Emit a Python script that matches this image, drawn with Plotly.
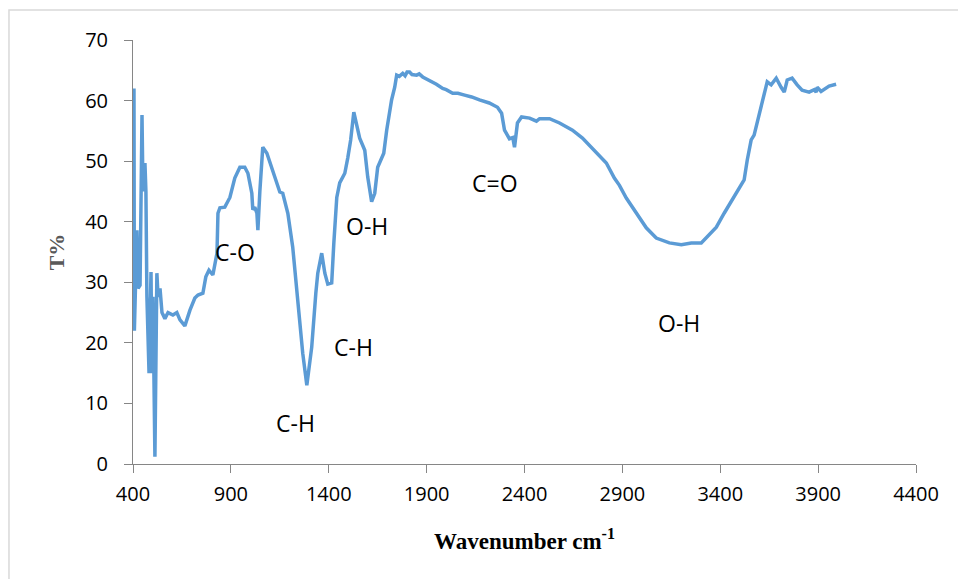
import plotly.graph_objects as go

wavenumber = [405, 407, 420, 426, 436, 446, 451, 461, 466, 471, 482, 492, 497, 502, 512, 522, 528, 538, 548,
              563, 579, 604, 624, 640, 665, 691, 716, 732, 757, 772, 788, 808, 829, 834, 844, 869, 895, 920,
              946, 971, 987, 1007, 1012, 1022, 1033, 1038, 1048, 1063, 1084, 1114, 1150, 1165, 1191, 1216,
              1242, 1267, 1288, 1313, 1334, 1344, 1364, 1380, 1395, 1415, 1426, 1441, 1456, 1482, 1497,
              1512, 1528, 1543, 1558, 1584, 1599, 1619, 1635, 1650, 1681, 1696, 1711, 1721, 1737, 1747,
              1760, 1778, 1790, 1800, 1813, 1825, 1849, 1862, 1880, 1900, 1931, 1950, 1982, 2000, 2033,
              2060, 2094, 2130, 2170, 2220, 2262, 2283, 2298, 2323, 2340, 2349, 2364, 2385, 2426, 2461,
              2477, 2528, 2579, 2645, 2696, 2767, 2818, 2859, 2885, 2920, 2971, 3022, 3073, 3140, 3201,
              3252, 3303, 3334, 3380, 3420, 3461, 3497, 3522, 3538, 3558, 3573, 3589, 3609, 3624, 3640,
              3660, 3686, 3711, 3727, 3742, 3767, 3793, 3818, 3854, 3880, 3890, 3895, 3915, 3956, 3992]
transmittance = [62, 22, 38.6, 29, 29.5, 57.6, 45, 49.7, 45, 27.6, 15, 31.7, 15, 27.6, 1.2, 31.5, 27.6, 29, 25,
                 24, 25, 24.6, 25, 23.8, 22.8, 25.4, 27.4, 27.9, 28.2, 30.9, 32, 31.2, 34.8, 41.4, 42.3, 42.4,
                 44, 47.2, 49, 49, 48, 44.7, 42, 42.4, 41.4, 38.6, 45, 52.3, 51.3, 48.5, 44.9, 44.7, 41.4, 35.8,
                 27, 18.3, 13, 19.3, 28.2, 31.5, 34.8, 31.5, 29.7, 29.9, 36.5, 44, 46.4, 48, 50.5,
                 53.5, 58.1, 56, 53.8, 51.8, 47.4, 43.3, 44.7, 49, 51.3, 55.1, 58.4, 60.1, 62.2, 64.2,
                 64.0, 64.5, 64.1, 64.7, 64.7, 64.3, 64.2, 64.4, 63.9, 63.6, 63.1, 62.7, 62.0, 61.8, 61.2,
                 61.2, 60.9, 60.6, 60.1, 59.6, 58.9, 57.9, 55.1, 53.7, 53.9, 52.3, 56.3, 57.3, 57.1, 56.6,
                 57, 57, 56.3, 55.1, 53.8, 51.3, 49.7, 47.2, 46, 43.9, 41.4, 39, 37.3, 36.5, 36.2,
                 36.5, 36.5, 37.5, 39.1, 41.4, 43.6, 45.7, 46.9, 50.2, 53.5, 54.3, 56.3, 58.9, 61.2, 63.1,
                 62.6, 63.7, 62.2, 61.4, 63.4, 63.7, 62.6, 61.7, 61.4, 61.8, 61.4, 62.2, 61.5, 62.4, 62.7]

labels = ["C-O", "O-H", "C-H", "C-H", "C=O", "O-H"]
label_x = [920, 1594, 1528, 1232, 2247, 3191]
label_y = [35.0, 39.3, 19.3, 6.8, 46.4, 23.3]

x_ticks = [400, 900, 1400, 1900, 2400, 2900, 3400, 3900, 4400]

fig = go.Figure()
fig.add_trace(go.Scatter(x=wavenumber, y=transmittance, mode="lines",
                         line=dict(color="#5B9BD5", width=3.5), showlegend=False))

for t, xv, yv in zip(labels, label_x, label_y):
    fig.add_annotation(x=xv, y=yv, text=t, showarrow=False,
                       font=dict(family="Open Sans", size=23, color="#000000"))

axis_font = dict(family="Open Sans", size=20, color="#000000")
fig.update_xaxes(range=[400, 4400], tickvals=x_ticks, ticks="outside", ticklen=8,
                 tickcolor="#868686", showline=True, linecolor="#868686", linewidth=1,
                 showgrid=False, zeroline=False, tickfont=axis_font, ticklabelstandoff=4,
                 title=dict(text="<b>Wavenumber cm<sup>-1</sup></b>",
                            font=dict(family="Liberation Serif", size=23, color="#000000"),
                            standoff=26))
fig.update_yaxes(range=[0, 70], dtick=10, ticks="outside", ticklen=8,
                 tickcolor="#868686", showline=True, linecolor="#868686", linewidth=1,
                 showgrid=False, zeroline=False, tickfont=axis_font, ticklabelstandoff=12,
                 title=dict(text="<b>T%</b>",
                            font=dict(family="Liberation Serif", size=22, color="#595959"),
                            standoff=14))

fig.add_shape(type="rect", xref="paper", yref="paper", x0=-0.1584, y0=-0.5, x1=1.2, y1=1.0708,
              line=dict(color="#D9D9D9", width=1.5), fillcolor="rgba(0,0,0,0)", layer="below")

fig.update_layout(width=958, height=579, margin=dict(l=133, r=42, t=40, b=115),
                  paper_bgcolor="white", plot_bgcolor="white")

fig.write_html("out.html")
